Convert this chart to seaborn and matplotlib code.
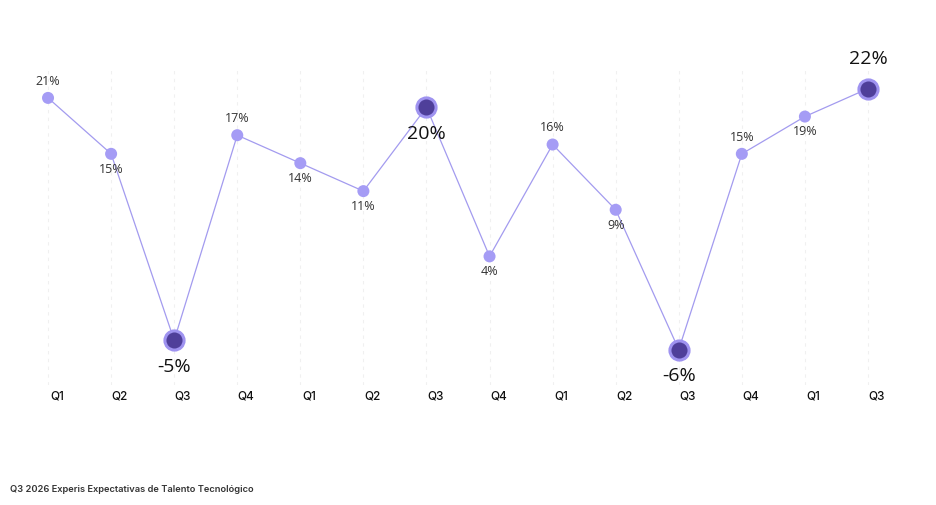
import matplotlib
matplotlib.use("Agg")
import matplotlib.pyplot as plt
import seaborn as sns
import pandas as pd

# Data
quarters = ["Q1", "Q2", "Q3", "Q4", "Q1", "Q2", "Q3", "Q4",
            "Q1", "Q2", "Q3", "Q4", "Q1", "Q3"]
values = [21, 15, -5, 17, 14, 11, 20, 4, 16, 9, -6, 15, 19, 22]
label_pos = ["above", "below", "below", "above", "below", "below", "below",
             "below", "above", "below", "below", "above", "below", "above"]
highlight = [False, False, True, False, False, False, True,
             False, False, False, True, False, False, True]
footer = "Q3 2026 Experis Expectativas de Talento Tecnológico"

df = pd.DataFrame({"idx": range(len(values)), "value": values,
                   "quarter": quarters, "highlight": highlight})

sns.set_theme(style="white")
plt.rcParams['font.family'] = ['Open Sans', 'DejaVu Sans']

fig = plt.figure(figsize=(9.37, 5.05), dpi=100)
ax = fig.add_axes([0.0176, 0.2376, 0.9424, 0.6239])

line_col = "#a39bef"
light = "#a59cf5"
dark = "#4f3f9a"

sns.lineplot(data=df, x="idx", y="value", ax=ax, color=line_col,
             linewidth=0.9, zorder=2)
sns.scatterplot(data=df[~df.highlight], x="idx", y="value", ax=ax,
                color=light, s=75, edgecolor="none", zorder=3)
sns.scatterplot(data=df[df.highlight], x="idx", y="value", ax=ax,
                color=dark, s=190, edgecolor="#9f93f0", linewidth=2.2,
                zorder=4)

# vertical dashed guides
for i in df.idx:
    ax.axvline(i, color="#f0f0f0", linewidth=0.8, linestyle=(0, (3, 4)),
               zorder=1)

for i, (v, pos, hl) in enumerate(zip(values, label_pos, highlight)):
    if hl:
        off = 21 if pos == "above" else -19
        ax.annotate(f"{v}%", (i, v), xytext=(0, off), textcoords="offset points",
                    ha="center", va="center", fontsize=14, color="#111111")
    else:
        off = 12 if pos == "above" else -11
        ax.annotate(f"{v}%", (i, v), xytext=(0, off), textcoords="offset points",
                    ha="center", va="center", fontsize=9, color="#333333")

ax.set_xlim(-0.5, 13.5)
ax.set_ylim(-9.8, 24.0)
# labels sit a little to the right of each point
ax.set_xticks([i + 0.14 for i in df.idx])
ax.set_xticklabels(quarters, fontsize=8.5, fontweight="medium",
                   family=["Inter", "DejaVu Sans"], color="#111111")
ax.tick_params(axis="x", length=0, pad=4)
ax.set_yticks([])
ax.set_xlabel("")
ax.set_ylabel("")
sns.despine(ax=ax, left=True, bottom=True)

fig.text(10 / 937, 1 - 489 / 505, footer, fontsize=6.7, fontweight="semibold",
         family=["Inter", "DejaVu Sans"], color="#333333", va="center")

fig.savefig("out.png", dpi=100)
